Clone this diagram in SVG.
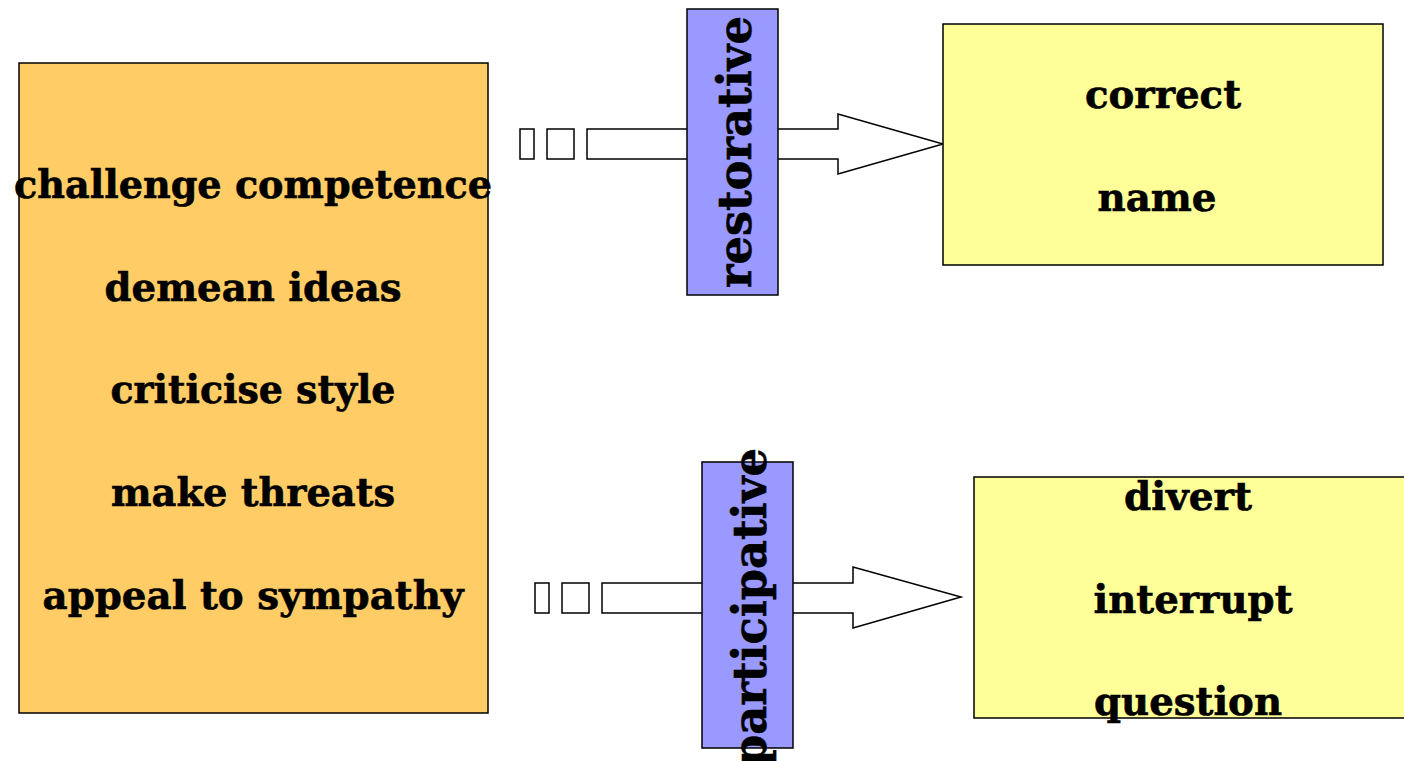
<svg xmlns="http://www.w3.org/2000/svg" width="1404" height="761" viewBox="0 0 1404 761">
  <style>
    .box { stroke: #000; stroke-width: 1.5; }
    .tactics { fill: #FFCC66; }
    .label { fill: #9999FF; }
    .response { fill: #FFFF99; }
    .arrow { fill: #FFFFFF; stroke: #000; stroke-width: 1.5; stroke-linejoin: miter; }
    text { font-family: "DejaVu Serif", "Liberation Serif", serif; font-weight: bold; fill: #000; text-anchor: middle; stroke: #000; stroke-width: 0.6; }
    .t40 { font-size: 39px; }
    .t48 { font-size: 46px; }
  </style>

  <rect width="1404" height="761" fill="#FFFFFF"/>

  <!-- connectors: block arrows with stripe tails -->
  <g id="connectors">
    <g id="arrow-top">
      <rect class="arrow" x="520" y="129" width="14" height="30"/>
      <rect class="arrow" x="547" y="129" width="27" height="30"/>
      <polygon class="arrow" points="587,129 838,129 838,114 943,144 838,174 838,159 587,159"/>
    </g>
    <g id="arrow-bottom">
      <rect class="arrow" x="535" y="583" width="14" height="30"/>
      <rect class="arrow" x="562" y="583" width="27" height="30"/>
      <polygon class="arrow" points="602,583 853,583 853,567 961,597 853,628 853,613 602,613"/>
    </g>
  </g>

  <g id="tactics">
    <rect class="box tactics" x="19" y="63" width="469" height="650"/>
    <text class="t40" x="253" y="198" textLength="478" lengthAdjust="spacingAndGlyphs">challenge competence</text>
    <text class="t40" x="253" y="301" textLength="297" lengthAdjust="spacingAndGlyphs">demean ideas</text>
    <text class="t40" x="253" y="403" textLength="285" lengthAdjust="spacingAndGlyphs">criticise style</text>
    <text class="t40" x="253" y="506" textLength="284" lengthAdjust="spacingAndGlyphs">make threats</text>
    <text class="t40" x="253" y="609" textLength="421" lengthAdjust="spacingAndGlyphs">appeal to sympathy</text>
  </g>

  <g id="restorative">
    <rect class="box label" x="687" y="9" width="91" height="286"/>
    <text class="t48" transform="translate(751,152) rotate(-90)" textLength="272" lengthAdjust="spacingAndGlyphs">restorative</text>
  </g>

  <g id="participative">
    <rect class="box label" x="702" y="462" width="91" height="286"/>
    <text class="t48" transform="translate(766,607) rotate(-90)" textLength="318" lengthAdjust="spacingAndGlyphs">participative</text>
  </g>

  <g id="restorative-responses">
    <rect class="box response" x="943" y="24" width="440" height="241"/>
    <text class="t40" x="1163" y="108" textLength="156" lengthAdjust="spacingAndGlyphs">correct</text>
    <text class="t40" x="1157" y="211" textLength="119" lengthAdjust="spacingAndGlyphs">name</text>
  </g>

  <g id="participative-responses">
    <rect class="box response" x="974" y="477" width="440" height="241"/>
    <text class="t40" x="1188" y="510" textLength="128" lengthAdjust="spacingAndGlyphs">divert</text>
    <text class="t40" x="1193" y="613" textLength="199" lengthAdjust="spacingAndGlyphs">interrupt</text>
    <text class="t40" x="1188" y="715" textLength="188" lengthAdjust="spacingAndGlyphs">question</text>
  </g>
</svg>
